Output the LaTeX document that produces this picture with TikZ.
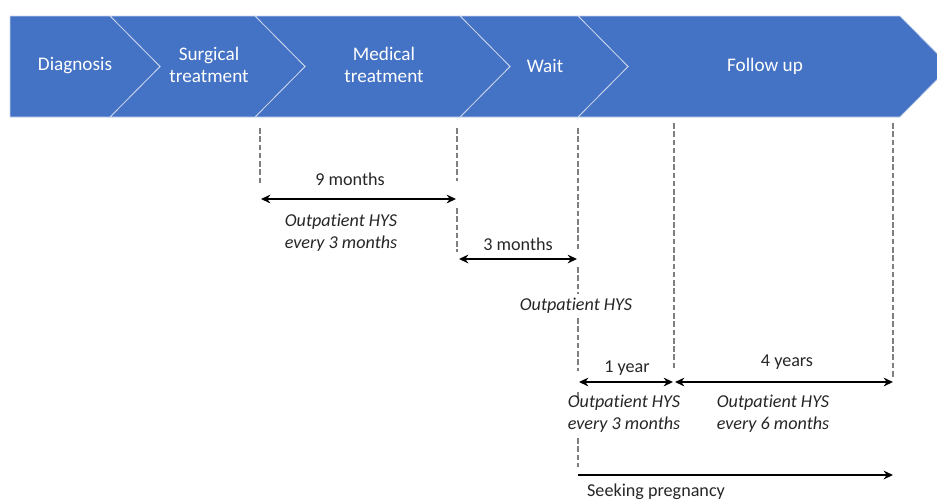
\documentclass[tikz,border=0pt]{standalone}
\usepackage{fontspec}
\setmainfont[Ligatures=CommonOff]{Carlito}
\usetikzlibrary{arrows.meta}
\definecolor{barblue}{HTML}{4472C4}
\definecolor{barline}{HTML}{C9D5EE}
\definecolor{dashgray}{HTML}{7F7F7F}
\definecolor{txt}{HTML}{262626}
\tikzset{
  chev/.style={fill=barblue, draw=barline, line width=0.6pt},
  bartext/.style={text=white, font=\fontsize{14.4}{17}\selectfont, align=center, inner sep=0pt},
  lbl/.style={text=txt, font=\fontsize{13.6}{16.5}\selectfont, align=center, inner sep=0pt},
  note/.style={text=txt, font=\fontsize{13.6}{16.5}\selectfont\itshape, align=center, inner sep=0pt},
  guide/.style={draw=dashgray, line width=1.9pt, dash pattern=on 4.2pt off 2pt},
  span/.style={draw=black, line width=1.6pt, {Stealth[length=7pt,width=6.5pt]}-{Stealth[length=7pt,width=6.5pt]}},
  oneway/.style={draw=black, line width=1.6pt, -{Stealth[length=7pt,width=6.5pt]}}
}
\begin{document}
\begin{tikzpicture}[x=0.75pt,y=-0.75pt]
\useasboundingbox (0,0) rectangle (937,501);
\begin{scope}
\clip (0,0) rectangle (937,501);
% chevrons
\draw[chev] (578,16) -- (900,16) -- (950,66.5) -- (900,117) -- (578,117) -- (628,66.5) -- cycle;
\draw[chev] (460,16) -- (578,16) -- (628,66.5) -- (578,117) -- (460,117) -- (510,66.5) -- cycle;
\draw[chev] (255,16) -- (460,16) -- (510,66.5) -- (460,117) -- (255,117) -- (305,66.5) -- cycle;
\draw[chev] (110,16) -- (255,16) -- (305,66.5) -- (255,117) -- (110,117) -- (160,66.5) -- cycle;
\draw[chev] (10,16) -- (110,16) -- (160,66.5) -- (110,117) -- (10,117) -- cycle;
\end{scope}
% bar labels
\node[bartext] (diag) at (75,66) {Diagnosis};
\node[bartext] (surg) at (209,65) {Surgical\\treatment};
\node[bartext] (med) at (384,65) {Medical\\treatment};
\node[bartext] (wait) at (545,66) {Wait};
\node[bartext] (fol) at (765,66) {Follow up};
% guide lines
\draw[guide] (260,128) -- (260,183);
\draw[guide] (457,128) -- (457,181);
\draw[guide] (457,208) -- (457,252);
\draw[guide] (578,128) -- (578,249);
\draw[guide] (578,267) -- (578,294);
\draw[guide] (578,318) -- (578,371);
\draw[guide] (578,392) -- (578,398);
\draw[guide] (578,438) -- (578,467);
\draw[guide] (674,123) -- (674,369);
\draw[guide] (893,123) -- (893,377);
% coordinates for spans
\coordinate (a1) at (261,199);
\coordinate (a2) at (456,199);
\coordinate (b1) at (459,259);
\coordinate (b2) at (577,259);
\coordinate (c1) at (579,382);
\coordinate (c2) at (673,382);
\coordinate (d1) at (675,382);
\coordinate (d2) at (893,382);
\coordinate (e1) at (578,475);
\coordinate (e2) at (893,475);
\draw[span] (a1) -- (a2);
\draw[span] (b1) -- (b2);
\draw[span] (c1) -- (c2);
\draw[span] (d1) -- (d2);
\draw[oneway] (e1) -- (e2);
% labels
\node[lbl] (m9) at (350,179) {9 months};
\node[note] (n9) at (341,233) {Outpatient HYS\\every 3 months};
\node[lbl] (m3) at (518,244) {3 months};
\node[note] (n3) at (576,306) {Outpatient HYS};
\node[lbl] (y1) at (627,368) {1 year};
\node[lbl] (y4) at (787,362) {4 years};
\node[note] (ny1) at (624,414) {Outpatient HYS\\every 3 months};
\node[note] (ny4) at (773,414) {Outpatient HYS\\every 6 months};
\node[lbl] (seek) at (656,492) {Seeking pregnancy};
\end{tikzpicture}
\end{document}
